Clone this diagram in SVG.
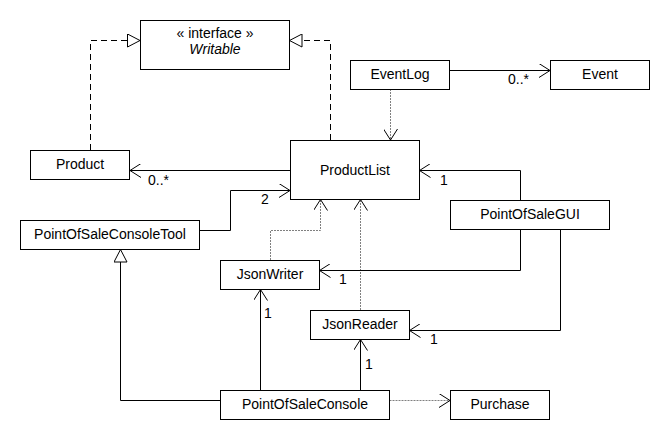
<svg xmlns="http://www.w3.org/2000/svg" width="670" height="440" viewBox="0 0 670 440">
<style>
.box{fill:#fff;stroke:#000;stroke-width:1}
.t{font-family:"Liberation Sans",Arial,sans-serif;font-size:14px;fill:#000}
.c{text-anchor:middle}
.ln{fill:none;stroke:#000;stroke-width:1}
.real{fill:none;stroke:#000;stroke-width:1;stroke-dasharray:6,4}
.dep{fill:none;stroke:#808080;stroke-width:1;stroke-dasharray:2,1}
</style>
<defs>
<marker id="open" viewBox="0 0 12 14" refX="11" refY="7" markerWidth="12" markerHeight="14" markerUnits="userSpaceOnUse" orient="auto">
<path d="M0,0 L11,7 L0,14" fill="none" stroke="#000" stroke-width="1"/>
</marker>
<marker id="tri" viewBox="0 0 14 14" refX="13" refY="7" markerWidth="14" markerHeight="14" markerUnits="userSpaceOnUse" orient="auto">
<path d="M0.5,0.5 L13,7 L0.5,13.5 Z" fill="#fff" stroke="#000" stroke-width="1"/>
</marker>
</defs>
<rect width="670" height="440" fill="#fff"/>
<g id="connectors">
<path class="real" d="M90.5,150 V40.5 H140" marker-end="url(#tri)"/>
<path class="real" d="M330.5,140 V40.5 H289.5" marker-end="url(#tri)"/>
<path class="ln" d="M290,170.5 H130" marker-end="url(#open)"/>
<path class="ln" d="M199,230.5 H230.5 V190.5 H290" marker-end="url(#open)"/>
<path class="ln" d="M449,70.5 H550" marker-end="url(#open)"/>
<path class="dep" d="M390.5,89 V140" marker-end="url(#open)"/>
<path class="ln" d="M520.5,200 V170.5 H419.5" marker-end="url(#open)"/>
<path class="dep" d="M270.5,260 V230.5 H320.5 V199.5" marker-end="url(#open)"/>
<path class="dep" d="M360.5,310 V199.5" marker-end="url(#open)"/>
<path class="ln" d="M520.5,229 V270.5 H319.5" marker-end="url(#open)"/>
<path class="ln" d="M560.5,229 V330.5 H409.5" marker-end="url(#open)"/>
<path class="ln" d="M260.5,390 V289.5" marker-end="url(#open)"/>
<path class="ln" d="M360.5,390 V339.5" marker-end="url(#open)"/>
<path class="ln" d="M220,400.5 H120.5 V249.5" marker-end="url(#tri)"/>
<path class="dep" d="M389.5,400.5 H450" marker-end="url(#open)"/>
<text class="t" x="148" y="185">0..*</text>
<text class="t" x="261" y="204">2</text>
<text class="t" x="508" y="84">0..*</text>
<text class="t" x="440" y="185">1</text>
<text class="t" x="339" y="284">1</text>
<text class="t" x="430" y="344">1</text>
<text class="t" x="264" y="318">1</text>
<text class="t" x="365" y="369">1</text>
</g>
<g id="Writable">
<rect class="box" x="140.5" y="20.5" width="149" height="49"/>
<text class="t c" x="215" y="38">« interface »</text>
<text class="t c" x="215" y="54" font-style="italic">Writable</text>
</g>
<g id="Product">
<rect class="box" x="30.5" y="150.5" width="99" height="29"/>
<text class="t c" x="80" y="169">Product</text>
</g>
<g id="ProductList">
<rect class="box" x="290.5" y="140.5" width="129" height="59"/>
<text class="t c" x="355" y="175">ProductList</text>
</g>
<g id="EventLog">
<rect class="box" x="350.5" y="60.5" width="99" height="29"/>
<text class="t c" x="400" y="79">EventLog</text>
</g>
<g id="Event">
<rect class="box" x="550.5" y="60.5" width="99" height="29"/>
<text class="t c" x="600" y="79">Event</text>
</g>
<g id="PointOfSaleGUI">
<rect class="box" x="450.5" y="200.5" width="159" height="29"/>
<text class="t c" x="530" y="219">PointOfSaleGUI</text>
</g>
<g id="PointOfSaleConsoleTool">
<rect class="box" x="20.5" y="220.5" width="179" height="29"/>
<text class="t c" x="110" y="239">PointOfSaleConsoleTool</text>
</g>
<g id="JsonWriter">
<rect class="box" x="220.5" y="260.5" width="99" height="29"/>
<text class="t c" x="270" y="279">JsonWriter</text>
</g>
<g id="JsonReader">
<rect class="box" x="310.5" y="310.5" width="99" height="29"/>
<text class="t c" x="360" y="329">JsonReader</text>
</g>
<g id="PointOfSaleConsole">
<rect class="box" x="220.5" y="390.5" width="169" height="29"/>
<text class="t c" x="305" y="409">PointOfSaleConsole</text>
</g>
<g id="Purchase">
<rect class="box" x="450.5" y="390.5" width="99" height="29"/>
<text class="t c" x="500" y="409">Purchase</text>
</g>
</svg>
